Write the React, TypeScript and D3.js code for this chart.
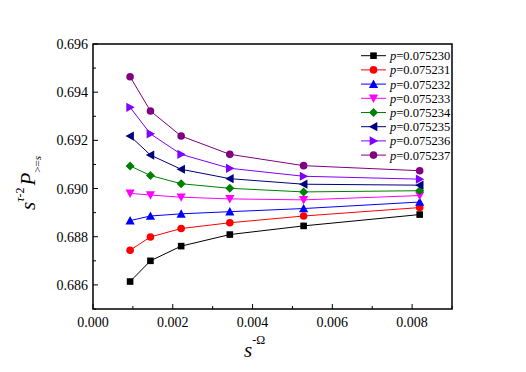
import React from "react";
import * as d3 from "d3";

const xValues = [0.00093, 0.00144, 0.00221, 0.00343, 0.00528, 0.00819];
const seriesLabels = ["0.075230", "0.075231", "0.075232", "0.075233", "0.075234", "0.075235", "0.075236", "0.075237"];
const s0 = [0.68614, 0.687, 0.68761, 0.68809, 0.68845, 0.68892];
const s1 = [0.68744, 0.68799, 0.68834, 0.68858, 0.68886, 0.68921];
const s2 = [0.68867, 0.68886, 0.68895, 0.68904, 0.68917, 0.68944];
const s3 = [0.6898, 0.68973, 0.68964, 0.68957, 0.68953, 0.68971];
const s4 = [0.69094, 0.69054, 0.6902, 0.69001, 0.68986, 0.68991];
const s5 = [0.69218, 0.69139, 0.6908, 0.69041, 0.69018, 0.69014];
const s6 = [0.69337, 0.69227, 0.69142, 0.69084, 0.69051, 0.69039];
const s7 = [0.69464, 0.69322, 0.69218, 0.69142, 0.69095, 0.69074];
const seriesValues = [s0, s1, s2, s3, s4, s5, s6, s7];
const colors = ["#000000", "#ff0000", "#0000ff", "#ff00ff", "#008000", "#000080", "#8000ff", "#800080"];
const shapes = ["square", "circle", "up", "down", "diamond", "left", "right", "circle"];
const xTicks = [0, 0.002, 0.004, 0.006, 0.008];
const yTicks = [0.686, 0.688, 0.69, 0.692, 0.694, 0.696];

const W = 526, H = 372;
const L = 93, R = 452, T = 44, B = 309;
const FONT = '"Liberation Serif", "DejaVu Serif", serif';

function Marker({ shape, x, y, color }: { shape: string; x: number; y: number; color: string }) {
  if (shape === "square") return <rect x={x - 3.3} y={y - 3.3} width={6.6} height={6.6} fill={color} />;
  if (shape === "circle") return <circle cx={x} cy={y} r={3.8} fill={color} />;
  if (shape === "diamond") return <path d={`M${x},${y - 4.5}L${x + 4.5},${y}L${x},${y + 4.5}L${x - 4.5},${y}Z`} fill={color} />;
  let pts: [number, number][] = [];
  const a = 4.6, b = 3.8;
  if (shape === "up") pts = [[x, y - a], [x + a, y + b], [x - a, y + b]];
  if (shape === "down") pts = [[x, y + a], [x + a, y - b], [x - a, y - b]];
  if (shape === "left") pts = [[x - a, y], [x + b, y - a], [x + b, y + a]];
  if (shape === "right") pts = [[x + a, y], [x - b, y - a], [x - b, y + a]];
  return <path d={"M" + pts.map((p) => p.join(",")).join("L") + "Z"} fill={color} />;
}

export default function App() {
  const x = d3.scaleLinear().domain([0, 0.009]).range([L, R]);
  const y = d3.scaleLinear().domain([0.685, 0.696]).range([B, T]);
  const line = d3.line<number>().x((_, i) => x(xValues[i])).y((d) => y(d));
  const xMinor = d3.range(0, 0.0091, 0.001);
  const yMinor = d3.range(0.685, 0.6961, 0.001);
  const ts = { fontFamily: FONT };
  return (
    <div style={{ position: "absolute", left: 0, top: 0 }}>
      <svg width={W} height={H} style={{ display: "block", background: "#fff", fontFamily: FONT }}>
        {seriesValues.map((vals, si) => (
          <g key={si}>
            <path d={line(vals) || ""} fill="none" stroke={colors[si]} strokeWidth={1} />
            {vals.map((v, i) => (
              <Marker key={i} shape={shapes[si]} x={x(xValues[i])} y={y(v)} color={colors[si]} />
            ))}
          </g>
        ))}
        {xMinor.map((t, i) => (
          <line key={"xm" + i} x1={x(t)} x2={x(t)} y1={B} y2={B - (i % 2 === 0 ? 5 : 3)} stroke="#000" strokeWidth={1} />
        ))}
        {yMinor.map((t, i) => (
          <line key={"ym" + i} x1={L} x2={L + (i % 2 === 1 ? 5 : 3)} y1={y(t)} y2={y(t)} stroke="#000" strokeWidth={1} />
        ))}
        <rect x={L} y={T} width={R - L} height={B - T} fill="none" stroke="#000" strokeWidth={1.5} />
        {xTicks.map((t, i) => (
          <text key={"xt" + i} style={ts} x={x(t)} y={327} fontSize={14} textAnchor="middle">
            {d3.format(".3f")(t)}
          </text>
        ))}
        {yTicks.map((t, i) => (
          <text key={"yt" + i} style={ts} x={88} y={y(t) + 5} fontSize={14} textAnchor="end">
            {d3.format(".3f")(t)}
          </text>
        ))}
        <text style={ts} x={244} y={357} fontSize={21}>
          <tspan fontStyle="italic">s</tspan>
          <tspan fontSize={12} dy={-13}>-Ω</tspan>
        </text>
        <text style={ts} transform={`translate(35,210) rotate(-90)`} fontSize={21}>
          <tspan fontStyle="italic">s</tspan>
          <tspan fontSize={12} dy={-11} fontStyle="italic">τ</tspan>
          <tspan fontSize={12}>-2</tspan>
          <tspan fontStyle="italic" dy={11} dx={2}>P</tspan>
          <tspan fontSize={11} dy={6}>&gt;=</tspan>
          <tspan fontSize={11} fontStyle="italic">s</tspan>
        </text>
        {seriesLabels.map((lab, i) => {
          const ly = 55.7 + i * 14.2;
          return (
            <g key={"lg" + i}>
              <line x1={361} x2={386} y1={ly} y2={ly} stroke={colors[i]} strokeWidth={1} />
              <Marker shape={shapes[i]} x={373.5} y={ly} color={colors[i]} />
              <text style={ts} x={390} y={ly + 4.5} fontSize={12.5}>
                <tspan fontStyle="italic">p</tspan>={lab}
              </text>
            </g>
          );
        })}
      </svg>
    </div>
  );
}
